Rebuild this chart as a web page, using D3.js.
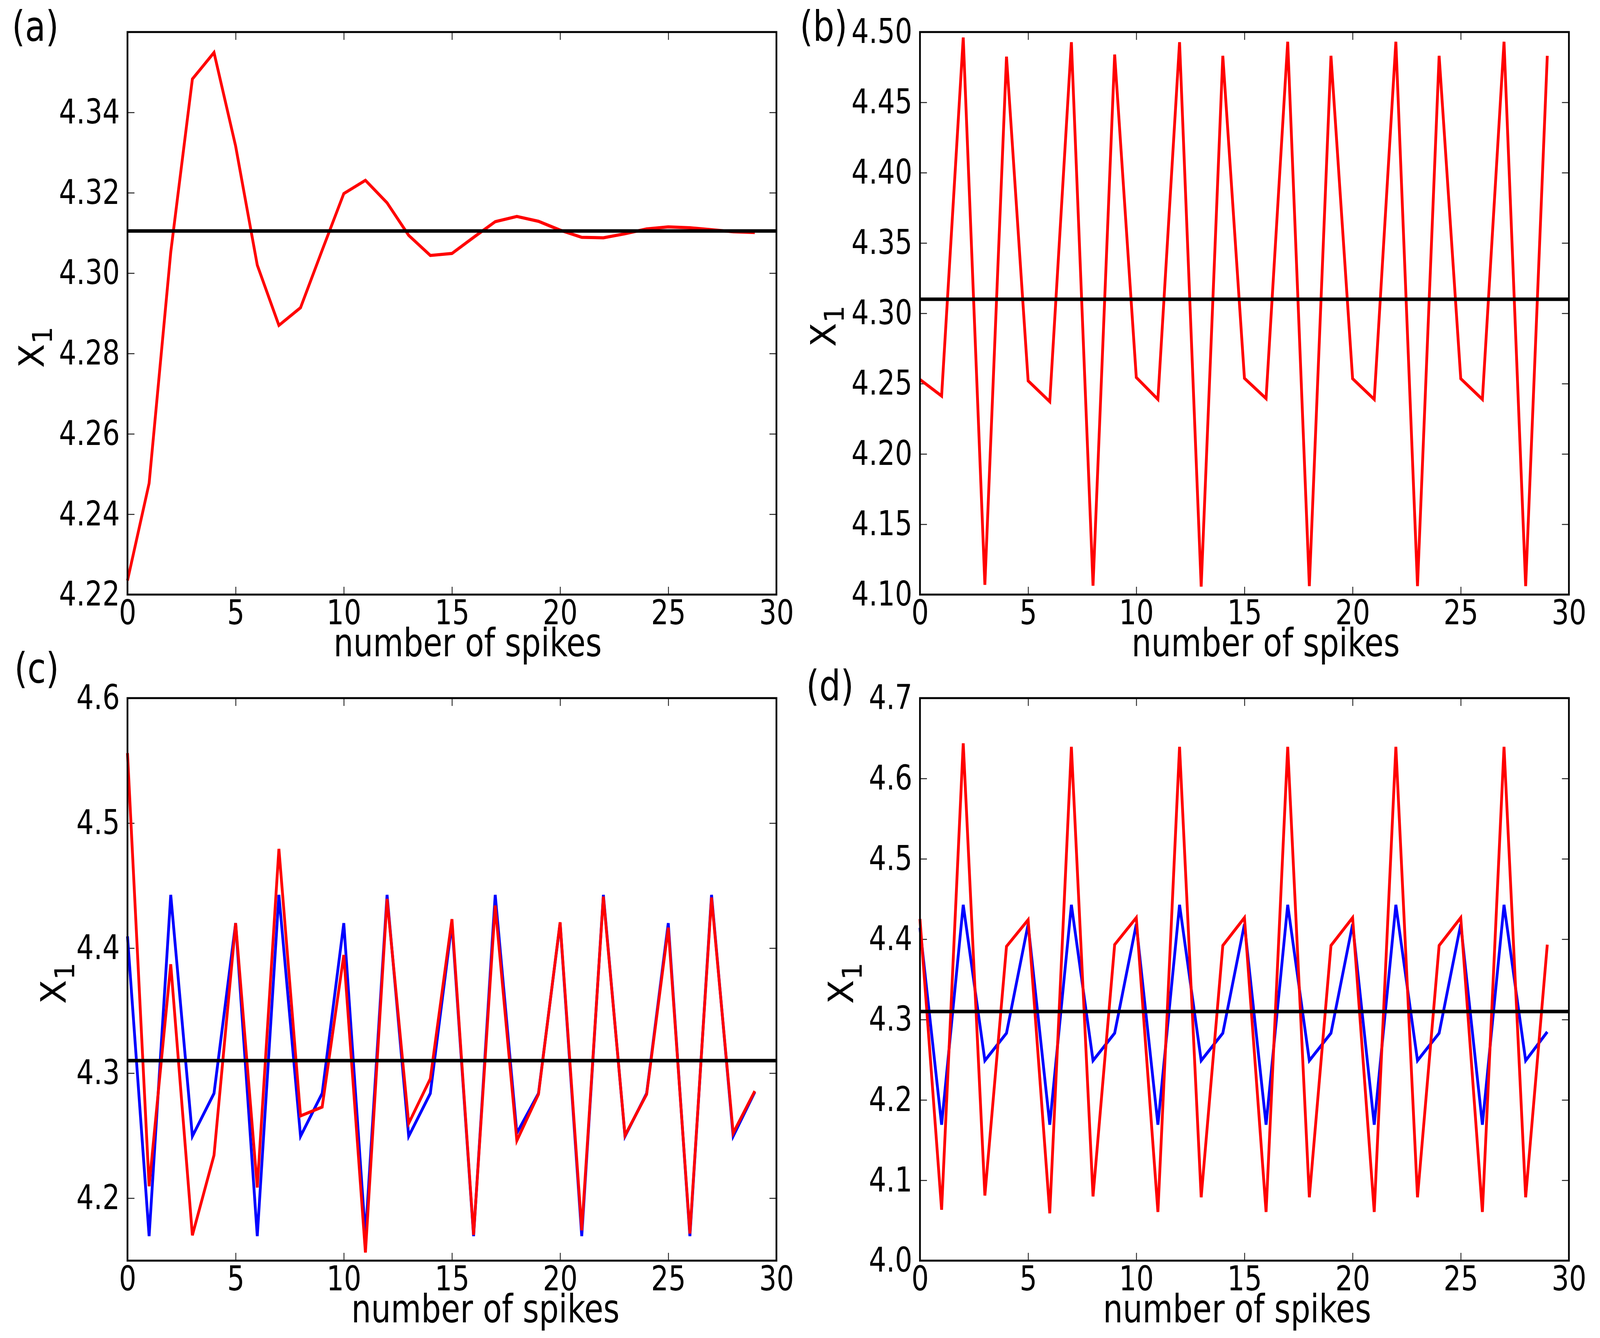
<!DOCTYPE html>
<html lang="en">

<head>
    <meta charset="utf-8">
    <title>X1 against number of spikes</title>
    <script src="https://cdn.jsdelivr.net/npm/d3@7"></script>
    <style>
        html, body { margin: 0; padding: 0; background: #fff; overflow: hidden; }
        #chart { width: 100vw; height: 100vh; }
        #chart svg { display: block; width: 100%; height: 100%; }
        svg text {
            font-family: "DejaVu Sans Condensed", "DejaVu Sans", sans-serif;
            font-stretch: condensed;
            fill: #000;
        }
    </style>
</head>

<body>
    <div id="chart"></div>

    <script>
        // ---- data ----
        const spikes = [0, 1, 2, 3, 4, 5, 6, 7, 8, 9, 10, 11, 12, 13, 14,
                        15, 16, 17, 18, 19, 20, 21, 22, 23, 24, 25, 26, 27, 28, 29];
        const xTicks = [0, 5, 10, 15, 20, 25, 30];

        const aRed = [4.2235, 4.2477, 4.3052, 4.3483, 4.3549, 4.3316, 4.3020, 4.2870, 4.2914, 4.3057,
                      4.3198, 4.3231, 4.3175, 4.3094, 4.3044, 4.3049, 4.3089, 4.3128, 4.3141, 4.3129,
                      4.3107, 4.3089, 4.3088, 4.3098, 4.3110, 4.3115, 4.3113, 4.3108, 4.3103, 4.3101];

        const bRed = [4.2529, 4.2412, 4.4961, 4.1069, 4.4825, 4.2520, 4.2372, 4.4928, 4.1063, 4.4840,
                      4.2544, 4.2388, 4.4928, 4.1057, 4.4831, 4.2538, 4.2394, 4.4931, 4.1060, 4.4831,
                      4.2535, 4.2388, 4.4931, 4.1060, 4.4831, 4.2535, 4.2388, 4.4931, 4.1060, 4.4831];

        const cBlue = [4.4094, 4.1696, 4.4426, 4.2495, 4.2838, 4.4200, 4.1696, 4.4426, 4.2495, 4.2838,
                       4.4200, 4.1696, 4.4426, 4.2495, 4.2838, 4.4200, 4.1696, 4.4426, 4.2520, 4.2838,
                       4.4200, 4.1696, 4.4426, 4.2495, 4.2838, 4.4200, 4.1696, 4.4426, 4.2495, 4.2849];
        const cRed = [4.5560, 4.2095, 4.3871, 4.1703, 4.2343, 4.4200, 4.2085, 4.4794, 4.2658, 4.2729,
                      4.3945, 4.1565, 4.4394, 4.2598, 4.2955, 4.4232, 4.1706, 4.4341, 4.2460, 4.2831,
                      4.4207, 4.1742, 4.4412, 4.2502, 4.2831, 4.4164, 4.1717, 4.4405, 4.2520, 4.2856];

        const dBlue = [4.4142, 4.1691, 4.4428, 4.2489, 4.2831, 4.4186, 4.1691, 4.4428, 4.2489, 4.2831,
                       4.4186, 4.1691, 4.4428, 4.2489, 4.2831, 4.4186, 4.1691, 4.4428, 4.2489, 4.2831,
                       4.4186, 4.1691, 4.4428, 4.2489, 4.2831, 4.4186, 4.1691, 4.4428, 4.2489, 4.2847];
        const dRed = [4.4252, 4.0633, 4.6438, 4.0810, 4.3910, 4.4241, 4.0589, 4.6394, 4.0799, 4.3932,
                      4.4268, 4.0606, 4.6394, 4.0788, 4.3921, 4.4268, 4.0606, 4.6394, 4.0788, 4.3921,
                      4.4268, 4.0606, 4.6394, 4.0788, 4.3921, 4.4268, 4.0606, 4.6394, 4.0788, 4.3932];

        const fixedPoint = [4.3105, 4.3100, 4.3100, 4.3100];

        const aTicks = [4.22, 4.24, 4.26, 4.28, 4.30, 4.32, 4.34];
        const bTicks = [4.10, 4.15, 4.20, 4.25, 4.30, 4.35, 4.40, 4.45, 4.50];
        const cTicks = [4.2, 4.3, 4.4, 4.5, 4.6];
        const dTicks = [4.0, 4.1, 4.2, 4.3, 4.4, 4.5, 4.6, 4.7];

        const aDomain = [4.22, 4.36];
        const bDomain = [4.10, 4.50];
        const cDomain = [4.15, 4.60];
        const dDomain = [4.00, 4.70];

        const panelTags = ["(a)", "(b)", "(c)", "(d)"];
        const xTitle = "number of spikes";

        // ---- layout (figure units; the viewBox fills the whole window) ----
        const W = 4581, H = 3425;
        const plotW = 1858, plotH = 1440;
        const tickLen = 20;

        const panels = [
            { tag: panelTags[0], left: 365,  top: 82,   domain: aDomain, ticks: aTicks, fmt: ".2f",
              lines: [{ v: aRed, c: "#ff0000" }], fixed: fixedPoint[0],
              tagX: 34, tagY: 104, yDx: 240, yDy: 87, xDx: 45 },
            { tag: panelTags[1], left: 2634, top: 82,   domain: bDomain, ticks: bTicks, fmt: ".2f",
              lines: [{ v: bRed, c: "#ff0000" }], fixed: fixedPoint[1],
              tagX: 2290, tagY: 104, yDx: 242, yDy: 33, xDx: 61 },
            { tag: panelTags[2], left: 365,  top: 1787, domain: cDomain, ticks: cTicks, fmt: ".1f",
              lines: [{ v: cBlue, c: "#0000ff" }, { v: cRed, c: "#ff0000" }], fixed: fixedPoint[2],
              tagX: 41, tagY: 1747, yDx: 177, yDy: 10, xDx: 96 },
            { tag: panelTags[3], left: 2634, top: 1787, domain: dDomain, ticks: dTicks, fmt: ".1f",
              lines: [{ v: dBlue, c: "#0000ff" }, { v: dRed, c: "#ff0000" }], fixed: fixedPoint[3],
              tagX: 2308, tagY: 1792, yDx: 191, yDy: 10, xDx: -21 }
        ];

        const svg = d3.select("#chart")
            .append("svg")
            .attr("viewBox", `0 0 ${W} ${H}`)
            .attr("preserveAspectRatio", "none");

        const x = d3.scaleLinear().domain([0, 30]).range([0, plotW]);

        panels.forEach(function(p) {
            const y = d3.scaleLinear().domain(p.domain).range([plotH, 0]);
            const g = svg.append("g").attr("transform", `translate(${p.left},${p.top})`);

            // inward ticks on all four sides, labels only bottom and left
            g.append("g").attr("transform", `translate(0,${plotH})`)
                .call(d3.axisBottom(x).tickValues(xTicks).tickFormat(d3.format("d"))
                    .tickSizeInner(-tickLen).tickSizeOuter(0).tickPadding(14));
            g.append("g")
                .call(d3.axisLeft(y).tickValues(p.ticks).tickFormat(d3.format(p.fmt))
                    .tickSizeInner(-tickLen).tickSizeOuter(0).tickPadding(22));
            g.append("g")
                .call(d3.axisTop(x).tickValues(xTicks).tickFormat("")
                    .tickSizeInner(-tickLen).tickSizeOuter(0));
            g.append("g").attr("transform", `translate(${plotW},0)`)
                .call(d3.axisRight(y).tickValues(p.ticks).tickFormat("")
                    .tickSizeInner(-tickLen).tickSizeOuter(0));

            g.selectAll(".domain").remove();
            g.selectAll(".tick line").attr("stroke", "#222").attr("stroke-width", 2.5);
            g.selectAll(".tick text").attr("font-size", 87).attr("fill", "#000");

            const line = d3.line()
                .x((d, i) => x(spikes[i]))
                .y(d => y(d));

            p.lines.forEach(function(s) {
                g.append("path")
                    .datum(s.v)
                    .attr("d", line)
                    .attr("fill", "none")
                    .attr("stroke", s.c)
                    .attr("stroke-width", 8)
                    .attr("stroke-linejoin", "miter");
            });

            // fixed point
            g.append("line")
                .attr("x1", x(0)).attr("x2", x(30))
                .attr("y1", y(p.fixed)).attr("y2", y(p.fixed))
                .attr("stroke", "#000")
                .attr("stroke-width", 9);

            // frame
            g.append("rect")
                .attr("width", plotW).attr("height", plotH)
                .attr("fill", "none")
                .attr("stroke", "#000")
                .attr("stroke-width", 5);

            // x title
            g.append("text")
                .attr("x", plotW / 2 + p.xDx)
                .attr("y", plotH + 158)
                .attr("text-anchor", "middle")
                .attr("font-size", 99)
                .attr("textLength", 768)
                .attr("lengthAdjust", "spacingAndGlyphs")
                .text(xTitle);

            // y title  X_1
            const yt = g.append("text")
                .attr("transform", `translate(${-p.yDx},${plotH / 2 + p.yDy}) rotate(-90)`)
                .attr("text-anchor", "middle")
                .attr("font-size", 100);
            yt.append("tspan").text("X");
            yt.append("tspan").attr("font-size", 78).attr("dy", 24).text("1");

            // panel tag
            svg.append("text")
                .attr("x", p.tagX)
                .attr("y", p.tagY)
                .attr("font-size", 107)
                .text(p.tag);
        });
    </script>
</body>

</html>
